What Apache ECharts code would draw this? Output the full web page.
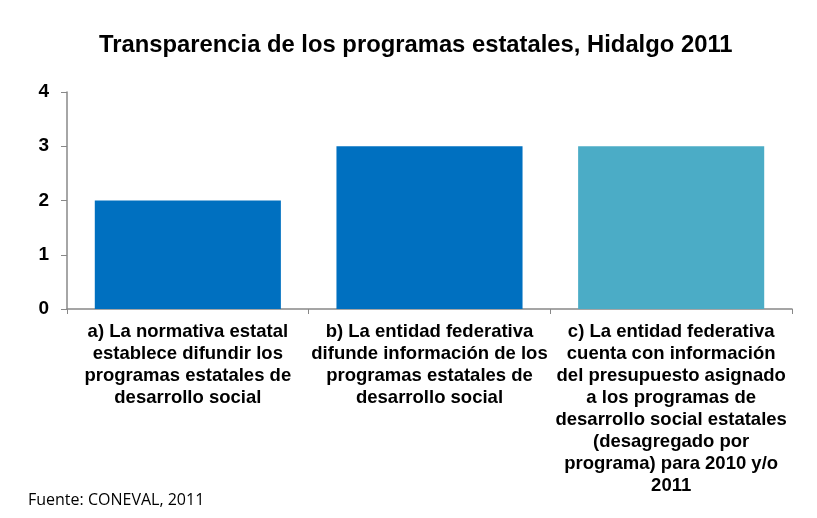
<!DOCTYPE html>
<html>
<head>
<meta charset="utf-8">
<script src="https://cdn.jsdelivr.net/npm/echarts@6/dist/echarts.min.js"></script>
<style>
  html, body { margin: 0; padding: 0; background: #fff; }
  #chart { width: 817px; height: 518px; }
</style>
</head>
<body>
<div id="chart"></div>
<script>
const categories = [
  'a) La normativa estatal\nestablece difundir los\nprogramas estatales de\ndesarrollo social',
  'b) La entidad federativa\ndifunde información de los\nprogramas estatales de\ndesarrollo social',
  'c) La entidad federativa\ncuenta con información\ndel presupuesto asignado\na los programas de\ndesarrollo social estatales\n(desagregado por\nprograma) para 2010 y/o\n2011'
];
const values = [2, 3, 3];
const barColors = ['#0070C0', '#0070C0', '#4BACC6'];
const yTicks = [0, 1, 2, 3, 4];

const FONT = "'Liberation Sans', Arial, sans-serif";

const chart = echarts.init(document.getElementById('chart'), null, { renderer: 'canvas' });
chart.setOption({
  animation: false,
  backgroundColor: '#fff',
  title: {
    text: 'Transparencia de los programas estatales, Hidalgo 2011',
    left: 94,
    top: 28,
    textStyle: { fontFamily: FONT, fontWeight: 'bold', fontSize: 23.8, color: '#000' }
  },
  graphic: [{
    type: 'text',
    left: 28,
    top: 492,
    style: { text: 'Fuente: CONEVAL, 2011', font: "16px 'Open Sans', sans-serif", fill: '#000' }
  }],
  grid: { left: 67, right: 25, top: 92, bottom: 209, containLabel: false },
  xAxis: {
    type: 'category',
    data: categories,
    axisLine: { lineStyle: { color: '#888', width: 1.5 } },
    axisTick: { show: true, length: 5, lineStyle: { color: '#888' } },
    axisLabel: {
      interval: 0,
      margin: 12,
      color: '#000',
      fontFamily: FONT,
      fontWeight: 'bold',
      fontSize: 18.5,
      lineHeight: 22
    }
  },
  yAxis: {
    type: 'value',
    min: yTicks[0],
    max: yTicks[yTicks.length - 1],
    interval: 1,
    axisLine: { show: true, lineStyle: { color: '#888', width: 1.5 } },
    axisTick: { show: true, length: 6, lineStyle: { color: '#888' } },
    splitLine: { show: false },
    axisLabel: {
      margin: 18,
      color: '#000',
      fontFamily: FONT,
      fontWeight: 'bold',
      fontSize: 19
    }
  },
  series: [{
    type: 'bar',
    barCategoryGap: '23%',
    data: values.map((v, i) => ({ value: v, itemStyle: { color: barColors[i] } }))
  }]
});
</script>
</body>
</html>
